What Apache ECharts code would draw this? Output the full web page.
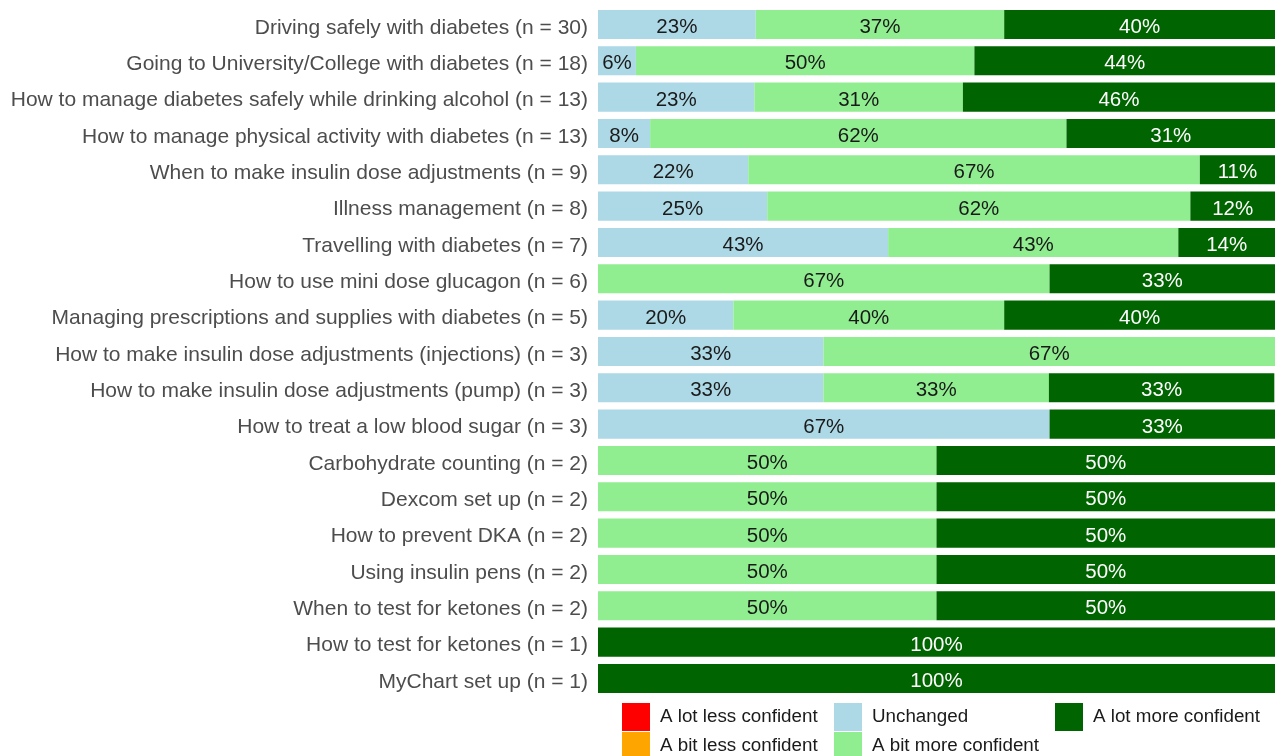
<!DOCTYPE html>
<html>
<head>
<meta charset="utf-8">
<script src="https://cdn.jsdelivr.net/npm/echarts@6/dist/echarts.min.js"></script>
<style>
html,body{margin:0;padding:0;background:#fff;}
#chart{width:1275px;height:756px;}
</style>
</head>
<body>
<div id="chart"></div>
<script>
const categories = [
  "Driving safely with diabetes (n = 30)",
  "Going to University/College with diabetes (n = 18)",
  "How to manage diabetes safely while drinking alcohol (n = 13)",
  "How to manage physical activity with diabetes (n = 13)",
  "When to make insulin dose adjustments (n = 9)",
  "Illness management (n = 8)",
  "Travelling with diabetes (n = 7)",
  "How to use mini dose glucagon (n = 6)",
  "Managing prescriptions and supplies with diabetes (n = 5)",
  "How to make insulin dose adjustments (injections) (n = 3)",
  "How to make insulin dose adjustments (pump) (n = 3)",
  "How to treat a low blood sugar (n = 3)",
  "Carbohydrate counting (n = 2)",
  "Dexcom set up (n = 2)",
  "How to prevent DKA (n = 2)",
  "Using insulin pens (n = 2)",
  "When to test for ketones (n = 2)",
  "How to test for ketones (n = 1)",
  "MyChart set up (n = 1)"
];
const lotLess   = [0,0,0,0,0,0,0,0,0,0,0,0,0,0,0,0,0,0,0];
const bitLess   = [0,0,0,0,0,0,0,0,0,0,0,0,0,0,0,0,0,0,0];
const unchanged = [23.3,5.6,23.1,7.7,22.2,25.0,42.86,0,20,33.3,33.3,66.7,0,0,0,0,0,0,0];
const bitMore   = [36.7,50.0,30.8,61.5,66.7,62.5,42.86,66.7,40,66.7,33.3,0,50,50,50,50,50,0,0];
const lotMore   = [40.0,44.4,46.1,30.8,11.1,12.5,14.28,33.3,40,0,33.3,33.3,50,50,50,50,50,100,100];

const seriesNames = ["A lot less confident","A bit less confident","Unchanged","A bit more confident","A lot more confident"];
const seriesColors = ["#ff0000","#ffa500","#add8e6","#90ee90","#006400"];
const labelColors = ["#1a1a1a","#1a1a1a","#1a1a1a","#1a1a1a","#ffffff"];
const seriesData = [lotLess, bitLess, unchanged, bitMore, lotMore];

function roundHalfEven(v){
  const r = Math.round(v * 1000) / 1000;
  const f = Math.floor(r);
  const d = r - f;
  if (Math.abs(d - 0.5) < 1e-9) return (f % 2 === 0) ? f : f + 1;
  return Math.round(r);
}

const FONT = "'Liberation Sans', Arial, sans-serif";
const legendPos = [[622,703],[622,732],[834,703],[834,732],[1055,703]];

const chart = echarts.init(document.getElementById('chart'), null, {renderer:'canvas'});
chart.setOption({
  animation:false,
  backgroundColor:'#ffffff',
  grid:{left:598,right:0,top:6.3,bottom:59.4,containLabel:false},
  xAxis:{type:'value',min:0,max:100,show:false},
  yAxis:{
    type:'category',data:categories,inverse:true,
    axisLine:{show:false},axisTick:{show:false},splitLine:{show:false},
    axisLabel:{
      color:'#4d4d4d',fontSize:21,fontFamily:FONT,margin:10,
      formatter:v=>'{a|' + v + '}',
      rich:{a:{color:'#4d4d4d',fontSize:21,fontFamily:FONT,padding:[7,0,0,0]}}
    }
  },
  legend: seriesNames.map((n,i)=>({
    data:[n],orient:'horizontal',left:legendPos[i][0],top:legendPos[i][1],padding:0,
    itemWidth:28,itemHeight:28,icon:'rect',selectedMode:false,
    textStyle:{fontSize:18.8,color:'#1a1a1a',fontFamily:FONT,padding:[3,0,0,5]}
  })),
  series: seriesNames.map((name,i)=>({
    name:name,type:'bar',stack:'total',barCategoryGap:'20%',
    data:seriesData[i],
    itemStyle:{color:seriesColors[i]},
    label:{
      show:true,position:'inside',offset:[0,3],color:labelColors[i],fontSize:20.5,fontFamily:FONT,
      formatter:p=> p.value > 0 ? roundHalfEven(p.value) + '%' : ''
    }
  }))
});
</script>
</body>
</html>
